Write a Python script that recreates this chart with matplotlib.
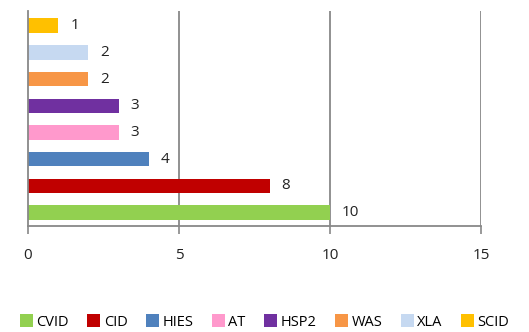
import matplotlib
matplotlib.use("Agg")
import matplotlib.pyplot as plt
from matplotlib.patches import Patch

categories = ["CVID", "CID", "HIES", "AT", "HSP2", "WAS", "XLA", "SCID"]
values = [10, 8, 4, 3, 3, 2, 2, 1]
colors = ["#92D050", "#C00000", "#4F81BD", "#FF99CC", "#7030A0", "#F79646", "#C6D9F1", "#FFC000"]
xticks = [0, 5, 10, 15]

plt.rcParams['font.family'] = ['Open Sans', 'DejaVu Sans']
fig = plt.figure(figsize=(5.29, 3.32), dpi=100)
W, H = 529, 332
ax = fig.add_axes([28 / W, 1 - 226 / H, (481 - 28) / W, (226 - 11) / H])

ypos = list(range(len(categories)))
ax.barh(ypos, values, height=0.54, color=colors)
for y, v in zip(ypos, values):
    ax.text(v + 0.4, y, str(v), va="center", ha="left", fontsize=11, color="#222222")

ax.set_xlim(0, 15)
ax.set_ylim(-0.5, 7.55)
ax.set_xticks(xticks)
ax.set_xticklabels([str(t) for t in xticks], fontsize=11, color="#222222")
ax.set_yticks([])
ax.tick_params(axis="x", direction="out", length=6, width=1.2, color="#888888", pad=10)
for x in xticks[1:]:
    ax.axvline(x, color="#888888", lw=1.3, zorder=0)
for s in ["top", "right"]:
    ax.spines[s].set_visible(False)
for s in ["left", "bottom"]:
    ax.spines[s].set_color("#888888")
    ax.spines[s].set_linewidth(1.3)

handles = [Patch(facecolor=c, edgecolor="none") for c in colors]
fig.legend(handles, categories, loc="center", bbox_to_anchor=(0.5, 1 - 322 / H), ncol=8,
           frameon=False, fontsize=10.5, handlelength=0.9, handleheight=0.9,
           handletextpad=0.25, columnspacing=1.25, borderaxespad=0, borderpad=0)

fig.savefig("out.png", dpi=100)
